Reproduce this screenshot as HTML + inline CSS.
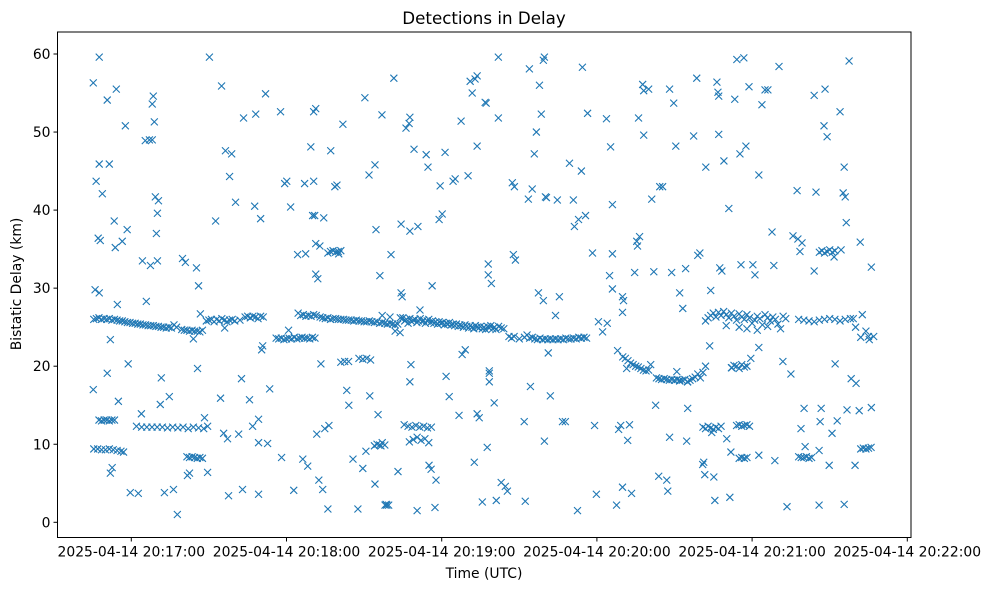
<!DOCTYPE html>
<html><head><meta charset="utf-8"><style>
html,body{margin:0;padding:0;background:#fff;}
svg{display:block;font-family:"DejaVu Sans","Liberation Sans",sans-serif;}
</style></head><body>
<svg id="chart" width="989" height="590" viewBox="0 0 989 590" xmlns="http://www.w3.org/2000/svg">
<rect width="989" height="590" fill="#fff"/>
<text x="484" y="24" text-anchor="middle" font-size="16.7">Detections in Delay</text>
<text x="484" y="578" text-anchor="middle" font-size="13.9">Time (UTC)</text>
<text transform="translate(21,284) rotate(-90)" text-anchor="middle" font-size="13.9">Bistatic Delay (km)</text>
<g id="marks"></g>
<g id="axes"></g>
</svg>
<script>
const xTickSeconds = [60,120,180,240,300,360];
const xTickLabels = ["2025-04-14 20:17:00","2025-04-14 20:18:00","2025-04-14 20:19:00","2025-04-14 20:20:00","2025-04-14 20:21:00","2025-04-14 20:22:00"];
const yTicks = [0,10,20,30,40,50,60];
// [seconds after 20:16:00, delay km]
const scatterPoints = [[45.3,56.3],[47.6,59.6],[46.4,43.7],[47.6,45.9],[47.2,36.4],[48.0,36.1],[46.0,29.8],[47.6,29.4],[45.3,17.0],[48.8,42.1],[50.7,54.1],[51.5,45.9],[51.9,23.4],[53.8,35.2],[51.9,6.3],[52.6,7.0],[53.4,38.6],[54.2,55.5],[54.6,27.9],[50.7,19.1],[55.0,15.5],[56.5,36.0],[57.7,50.8],[58.4,37.5],[58.8,20.3],[59.6,3.8],[62.7,3.7],[63.9,13.9],[64.3,33.5],[65.4,48.9],[67.0,49.0],[68.5,54.6],[68.1,53.6],[68.9,51.3],[68.1,49.0],[69.3,41.7],[70.1,39.6],[69.7,37.0],[70.5,41.2],[71.6,18.5],[71.2,15.1],[72.8,3.8],[70.1,33.5],[65.8,28.3],[67.4,32.9],[74.7,16.1],[76.3,4.2],[77.8,1.0],[79.8,33.8],[80.9,33.3],[81.7,6.0],[82.5,6.3],[84.0,23.5],[85.6,19.7],[85.2,32.6],[86.0,30.3],[86.7,26.7],[88.3,13.4],[89.5,6.4],[90.2,59.6],[92.6,38.6],[94.5,15.9],[94.9,55.9],[95.7,11.4],[96.1,24.9],[96.4,47.6],[97.2,10.7],[97.6,3.4],[98.0,44.3],[98.8,47.2],[100.3,41.0],[101.5,11.3],[102.6,18.4],[103.0,4.2],[103.4,51.8],[105.7,15.7],[106.9,12.3],[107.7,40.5],[108.1,52.3],[109.2,10.2],[109.2,13.2],[110.0,38.9],[110.4,22.1],[110.8,22.6],[109.2,3.6],[111.9,54.9],[112.7,10.1],[113.5,17.1],[117.7,52.6],[118.1,8.3],[119.3,43.4],[120.1,43.7],[120.8,24.6],[121.6,40.4],[122.8,4.1],[124.3,34.3],[126.3,8.1],[127.0,43.4],[127.4,34.4],[128.2,7.2],[129.4,48.1],[130.1,39.3],[130.5,43.7],[130.5,52.6],[131.3,53.0],[130.9,39.3],[131.7,11.3],[131.3,31.8],[131.3,35.7],[132.1,31.2],[132.9,35.4],[133.3,20.3],[134.4,39.0],[132.5,5.4],[134.0,4.2],[134.8,12.0],[136.0,1.7],[136.4,12.4],[137.1,47.6],[138.7,43.0],[139.5,43.2],[140.2,34.4],[141.8,51.0],[143.3,16.9],[144.1,15.0],[145.7,8.1],[147.6,1.7],[149.5,6.9],[150.3,54.4],[150.7,9.1],[151.9,44.5],[152.2,16.2],[154.2,45.8],[154.2,4.9],[154.6,37.5],[155.4,13.8],[156.1,31.6],[156.5,9.8],[156.9,52.2],[158.1,2.2],[158.8,2.2],[160.4,34.3],[161.5,56.9],[163.1,6.5],[163.9,24.3],[164.3,38.2],[164.3,29.4],[164.7,28.9],[166.2,50.5],[167.4,51.1],[167.7,51.9],[167.7,18.0],[168.1,20.2],[167.7,37.3],[169.3,47.8],[170.5,1.5],[170.8,37.9],[171.6,27.2],[174.0,47.1],[174.7,45.5],[175.9,6.8],[175.1,7.3],[176.3,30.3],[177.4,1.9],[177.8,5.4],[179.0,38.8],[180.2,39.5],[179.4,43.1],[181.3,47.4],[181.7,18.7],[182.9,16.1],[184.4,43.7],[185.2,44.0],[186.7,13.7],[187.5,51.4],[187.9,21.5],[189.1,22.1],[190.2,44.4],[191.0,56.5],[191.8,55.0],[192.9,56.8],[193.7,48.2],[193.7,57.2],[192.6,7.7],[193.7,13.9],[194.5,13.4],[195.7,2.6],[196.8,53.8],[197.2,53.7],[197.6,9.6],[198.0,33.1],[198.0,31.7],[198.4,19.1],[198.4,19.4],[198.4,18.0],[199.2,30.6],[200.3,15.3],[201.1,2.8],[201.9,59.6],[201.9,51.8],[203.0,5.1],[204.6,4.6],[205.4,4.0],[207.3,43.5],[208.1,43.0],[207.7,34.3],[208.5,33.6],[211.9,12.9],[212.3,2.7],[213.5,41.4],[213.9,58.1],[214.3,17.4],[215.0,42.7],[215.8,47.2],[216.6,50.0],[217.4,29.4],[217.8,56.0],[218.5,52.3],[219.3,28.4],[219.3,59.2],[219.7,59.6],[219.7,10.4],[220.1,41.7],[220.5,41.6],[221.2,21.7],[222.0,16.2],[224.0,26.5],[224.7,41.3],[225.5,28.9],[226.7,12.9],[227.8,12.9],[229.4,46.0],[230.9,41.3],[231.3,37.9],[232.5,1.5],[232.9,38.8],[234.0,45.0],[234.4,58.3],[235.6,39.3],[236.4,52.4],[238.3,34.5],[239.1,12.4],[239.8,3.6],[240.6,25.7],[242.2,24.4],[243.7,51.7],[244.9,31.6],[245.3,48.1],[246.0,34.4],[246.0,29.9],[246.0,40.7],[247.6,2.2],[248.4,11.9],[249.2,12.4],[249.9,4.5],[249.9,28.9],[249.9,26.9],[250.3,28.4],[251.5,19.7],[251.9,10.5],[252.6,12.5],[253.4,3.7],[254.6,32.0],[255.4,36.0],[255.7,35.4],[256.1,51.8],[256.5,36.6],[257.7,56.1],[258.1,49.6],[258.1,55.3],[260.0,55.5],[261.2,41.4],[260.8,20.2],[262.0,32.1],[262.7,15.0],[263.9,5.9],[264.3,43.0],[265.4,43.0],[267.0,5.4],[267.4,4.0],[268.1,10.9],[268.1,55.5],[268.9,32.0],[269.7,53.7],[270.5,48.2],[270.9,19.3],[272.0,29.4],[272.0,18.2],[273.2,27.4],[274.3,32.5],[275.1,14.6],[274.7,10.4],[275.1,18.0],[277.4,49.5],[278.6,56.9],[279.0,34.2],[279.8,34.5],[280.9,7.4],[281.3,7.7],[281.7,6.1],[282.1,45.5],[283.6,22.6],[284.0,29.7],[284.4,11.5],[285.2,5.8],[285.6,2.8],[286.4,56.4],[286.8,55.1],[287.1,54.6],[287.1,49.7],[287.5,32.6],[288.3,32.2],[289.1,46.3],[290.2,10.7],[291.0,40.2],[291.4,3.2],[291.8,9.0],[292.2,19.8],[293.3,54.2],[294.1,59.3],[295.3,47.2],[295.7,33.0],[296.8,59.5],[297.6,48.2],[298.8,55.8],[299.5,21.0],[300.3,33.0],[301.1,31.7],[302.6,8.6],[302.6,44.5],[302.6,22.4],[303.8,53.5],[305.0,55.4],[306.1,55.4],[307.7,37.2],[308.4,32.9],[308.8,7.9],[310.4,58.4],[311.9,20.6],[313.5,2.0],[315.0,19.0],[315.8,36.7],[317.4,42.5],[317.7,36.3],[318.5,34.7],[318.9,12.0],[319.3,35.8],[320.1,14.6],[320.5,9.7],[324.0,54.7],[324.0,32.2],[324.7,42.3],[325.9,9.2],[326.7,14.6],[325.9,2.2],[326.3,12.9],[327.8,50.8],[328.2,55.5],[329.0,49.4],[329.8,7.3],[330.9,11.4],[331.7,34.0],[332.1,20.3],[332.9,13.0],[334.0,52.6],[334.4,34.9],[335.2,42.2],[335.6,2.3],[335.6,45.5],[336.0,41.7],[336.4,38.4],[336.7,14.4],[337.5,59.1],[338.3,18.4],[339.1,26.1],[339.8,7.3],[340.2,17.8],[341.4,14.3],[341.8,35.9],[342.6,26.6],[345.3,23.4],[346.1,32.7],[346.1,14.7]];
const trackPoints = [[45.5,26.0],[46.5,26.1],[47.5,26.2],[48.5,26.0],[49.5,26.1],[50.5,26.0],[51.5,26.1],[52.5,25.9],[53.5,26.0],[54.5,25.9],[55.5,25.8],[56.5,25.8],[57.5,25.7],[58.5,25.6],[59.5,25.6],[60.5,25.5],[61.5,25.5],[62.5,25.4],[63.5,25.4],[64.5,25.3],[65.5,25.3],[66.5,25.2],[67.5,25.2],[68.5,25.2],[69.5,25.1],[70.5,25.1],[71.5,25.0],[72.5,25.0],[73.5,24.9],[74.5,25.0],[75.5,24.9],[76.5,25.3],[77.5,25.0],[79.5,24.7],[80.5,24.6],[81.5,24.6],[82.5,24.5],[83.5,24.6],[84.5,24.5],[85.5,24.5],[86.5,24.4],[87.5,24.6],[89,25.8],[90,25.9],[91,26.0],[92,25.7],[93,26.0],[94,25.8],[95,26.1],[96,25.9],[97,25.7],[98,25.9],[99,26.0],[100,25.8],[102,25.9],[104,26.3],[105,26.4],[106,26.2],[107,26.4],[108,26.3],[109,26.1],[110,26.4],[111,26.3],[116,23.6],[117,23.5],[118,23.6],[119,23.4],[120,23.5],[121,23.6],[122,23.5],[123,23.7],[124,23.5],[125,23.6],[126,23.7],[127,23.6],[128,23.6],[129,23.5],[130,23.7],[131,23.6],[124.5,26.8],[125.5,26.5],[126.5,26.6],[127.5,26.4],[128.5,26.5],[129.5,26.4],[130.5,26.6],[131.5,26.5],[133,26.3],[134,26.2],[135,26.1],[136,26.2],[137,26.0],[138,26.1],[139,26.1],[140,26.0],[141,26.0],[142,26.0],[143,25.9],[144,25.9],[145,25.9],[146,25.8],[147,25.9],[148,25.8],[149,25.8],[150,25.7],[151,25.7],[152,25.8],[153,25.7],[154,25.6],[155,25.7],[156,25.5],[157,25.6],[158,25.5],[159,25.4],[160,25.5],[161,25.4],[162,25.3],[163,25.4],[164,26.2],[157,26.5],[160,26.3],[162,24.5],[165,26.2],[165.7,25.8],[166.4,26.0],[167,25.5],[167.7,26.1],[168.4,25.7],[169,25.9],[169.7,26.0],[170.4,25.6],[171,25.8],[171.7,26.1],[172.4,25.7],[173,25.9],[173.7,25.5],[174.4,25.8],[175,26.0],[175.7,25.6],[176.4,25.8],[177,25.5],[177.7,25.7],[178.4,25.4],[179,25.7],[179.7,25.5],[180.4,25.6],[181,25.3],[181.7,25.5],[182.4,25.4],[183,25.6],[183.7,25.3],[184.4,25.4],[185,25.2],[185.7,25.4],[186.4,25.1],[187,25.3],[187.7,25.2],[188.4,25.0],[189,25.3],[189.7,25.1],[190.4,24.9],[191,25.2],[191.7,25.0],[192.4,24.8],[193,25.2],[193.7,25.0],[194.4,24.9],[195,25.1],[195.7,24.8],[196.4,25.0],[197,24.7],[197.7,25.1],[198.4,24.9],[199,25.2],[199.7,24.8],[200.4,25.0],[201,24.7],[202,25.1],[203,24.9],[204,24.8],[206,23.8],[207,23.6],[208,23.8],[210,23.5],[212,23.7],[213,24.0],[214,23.6],[215,23.7],[216,23.5],[217,23.4],[218,23.6],[219,23.4],[220,23.5],[221,23.4],[222,23.5],[223,23.4],[224,23.5],[225,23.4],[226,23.5],[227,23.4],[228,23.6],[229,23.5],[230,23.5],[231,23.6],[232,23.5],[233,23.7],[234,23.6],[235,23.7],[236,23.6],[244,25.5],[248,22.0],[250,21.2],[251,21.0],[252,20.7],[253,20.4],[254,20.2],[255,20.0],[256,19.9],[257,19.7],[258,19.5],[259,19.4],[260,19.5],[263,18.5],[264,18.4],[265,18.3],[266,18.4],[267,18.3],[268,18.2],[269,18.3],[270,18.2],[271,18.3],[272,18.1],[273,18.2],[274,18.3],[275,18.0],[276,18.2],[277,18.4],[278,18.6],[279,19.0],[280,18.5],[281,19.2],[282,20.0],[282,25.8],[283,26.2],[284,26.5],[285,26.8],[286,26.3],[287,26.9],[288,26.5],[289,27.0],[290,26.6],[291,26.2],[292,26.8],[293,26.4],[294,25.9],[295,26.7],[296,26.3],[297,26.0],[298,26.6],[299,26.2],[300,25.5],[301,25.9],[302,26.4],[303,26.1],[304,25.3],[305,26.6],[306,26.2],[307,25.8],[308,26.3],[309,26.0],[310,25.4],[311,24.8],[312,26.4],[313,26.1],[290,25.2],[295,25.0],[298,24.8],[302,24.6],[306,25.1],[292,19.8],[293,20.1],[294,20.0],[295,19.7],[296,20.2],[297,19.9],[298,20.0],[318,26.0],[320,25.9],[322,25.8],[324,25.7],[326,25.9],[328,26.0],[330,26.1],[332,26.0],[334,25.8],[336,26.0],[338,26.1],[340,25.0],[342,23.7],[344,24.5],[345,23.8],[347,23.8],[326,34.6],[327,34.8],[328,34.5],[329,34.7],[330,34.9],[331,34.6],[332,34.8]];
const clusterPoints = [[47.5,13.1],[48.5,13.0],[49.5,13.1],[50.5,13.1],[51.5,13.0],[52.5,13.1],[53.5,13.1],[45.5,9.4],[47,9.4],[48.5,9.3],[50,9.3],[51.5,9.4],[53,9.3],[54.5,9.2],[56,9.1],[57,9.0],[62,12.3],[64,12.2],[66,12.2],[68,12.2],[70,12.2],[72,12.2],[74,12.1],[76,12.2],[78,12.1],[80,12.2],[82,12.0],[84,12.2],[86,12.1],[88,12.0],[89.5,12.3],[81.5,8.4],[82.5,8.3],[83.5,8.4],[84.5,8.3],[85.5,8.2],[86.5,8.3],[87.5,8.2],[136,34.5],[137,34.7],[138,34.8],[139,34.6],[140,34.7],[141,34.8],[141,20.5],[142.5,20.6],[144,20.6],[148,21.0],[149.5,20.9],[151,21.0],[152.5,20.8],[154,9.8],[155,10.0],[156,9.9],[157,10.2],[158,9.9],[158.5,2.3],[159.5,2.2],[165.5,12.5],[167,12.3],[168.5,12.2],[170,12.4],[171.5,12.2],[173,12.3],[174.5,12.1],[176,12.2],[167.5,10.3],[169,10.6],[170.5,10.9],[172,10.5],[173.5,10.7],[175,10.2],[281,12.2],[282,12.0],[283,12.3],[284,12.1],[285,11.9],[286,12.2],[287,12.0],[288,12.3],[294,12.4],[295,12.5],[296,12.3],[297,12.4],[298,12.5],[299,12.3],[295,8.2],[296,8.3],[297,8.2],[298,8.3],[318,8.4],[319,8.3],[320,8.3],[321,8.4],[322,8.2],[323,8.3],[342,9.4],[343,9.5],[344,9.4],[345,9.5],[346,9.6]];

const NS = "http://www.w3.org/2000/svg";
const L = 57.5, R = 911, T = 32, B = 537.5;
function xScale(s){ return 131.3 + (s - 60) * (907.3 - 131.3) / 300; }
function yScale(v){ return 522.3 - v * (522.3 - 54) / 60; }
function mk(tag, attrs, parent){ const e = document.createElementNS(NS, tag); for (const k in attrs) e.setAttribute(k, attrs[k]); parent.appendChild(e); return e; }

const marks = document.getElementById('marks');
const allPts = scatterPoints.concat(trackPoints, clusterPoints);
allPts.forEach(function(p){
  const cx = xScale(p[0]), cy = yScale(p[1]), h = 3.5;
  const g = mk('path', {d: `M${cx-h},${cy-h}L${cx+h},${cy+h}M${cx-h},${cy+h}L${cx+h},${cy-h}`, stroke:'#1f77b4', 'stroke-width':1.1, fill:'none'}, marks);
  
  
});

const axes = document.getElementById('axes');
const frame = mk('rect', {x:L, y:T, width:R-L, height:B-T, fill:'none', stroke:'#000', 'stroke-width':1}, axes);


xTickSeconds.forEach(function(s, i){
  const x = xScale(s);
  mk('line', {x1:x, x2:x, y1:B, y2:B+4, stroke:'#000'}, axes);
  const t = mk('text', {x:x, y:B+19, 'text-anchor':'middle', 'font-size':13.9}, axes);
  t.textContent = xTickLabels[i];
  
  
});
yTicks.forEach(function(v){
  const y = yScale(v);
  mk('line', {x1:L-4, x2:L, y1:y, y2:y, stroke:'#000'}, axes);
  const t = mk('text', {x:L-7, y:y+5, 'text-anchor':'end', 'font-size':13.9}, axes);
  t.textContent = v;
  
  
});
</script>
</body></html>
